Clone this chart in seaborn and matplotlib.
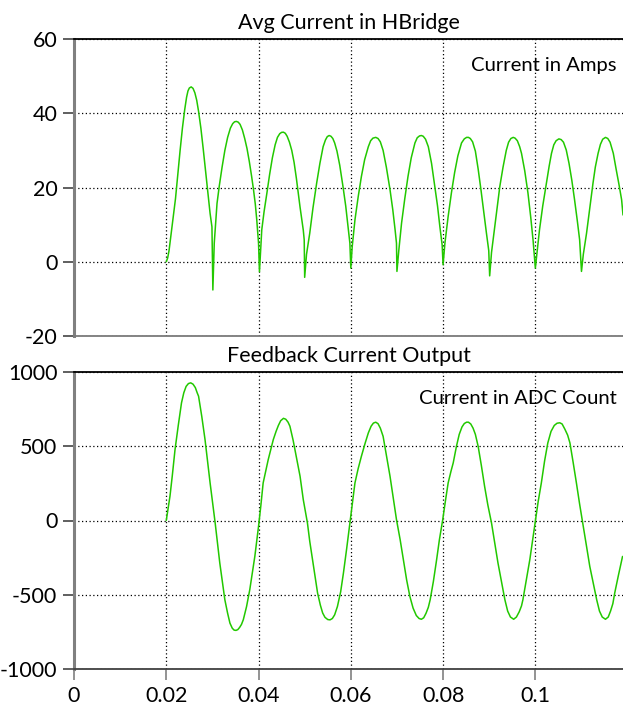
import matplotlib
matplotlib.use("Agg")
import matplotlib.pyplot as plt
import seaborn as sns
import numpy as np
import pandas as pd

# ---------------- data ----------------
t_top = [0.0200, 0.0203, 0.0206, 0.0210, 0.0215, 0.0220, 0.0225, 0.0230, 0.0235, 0.0240,
         0.0244, 0.0247, 0.0250, 0.0254, 0.0258, 0.0262, 0.0266, 0.0270, 0.0275, 0.0280,
         0.0285, 0.0290, 0.0295, 0.0299, 0.0301,
         0.0304, 0.0310, 0.0315, 0.0321, 0.0327, 0.0333, 0.0339, 0.0344, 0.0348, 0.0352,
         0.0356, 0.0360, 0.0365, 0.0370, 0.0375, 0.0380, 0.0385, 0.0389, 0.0393, 0.0396,
         0.0400, 0.0402,
         0.0407, 0.0412, 0.0418, 0.0424, 0.0430, 0.0436, 0.0441, 0.0446, 0.0450, 0.0454,
         0.0458, 0.0462, 0.0467, 0.0472, 0.0477, 0.0482, 0.0487, 0.0490, 0.0494, 0.0497,
         0.0499, 0.0500,
         0.0504, 0.0511, 0.0518, 0.0526, 0.0533, 0.0540, 0.0545, 0.0549, 0.0553, 0.0557,
         0.0561, 0.0565, 0.0570, 0.0576, 0.0583, 0.0589, 0.0594, 0.0598, 0.0600,
         0.0603, 0.0609, 0.0616, 0.0623, 0.0630, 0.0638, 0.0643, 0.0648, 0.0654, 0.0659,
         0.0664, 0.0670, 0.0677, 0.0685, 0.0691, 0.0696, 0.0699, 0.0700,
         0.0704, 0.0710, 0.0717, 0.0724, 0.0731, 0.0739, 0.0744, 0.0749, 0.0753, 0.0757,
         0.0762, 0.0768, 0.0775, 0.0782, 0.0788, 0.0793, 0.0798, 0.0800,
         0.0804, 0.0811, 0.0818, 0.0825, 0.0832, 0.0840, 0.0846, 0.0851, 0.0855, 0.0859,
         0.0864, 0.0870, 0.0876, 0.0882, 0.0888, 0.0894, 0.0899, 0.0901,
         0.0905, 0.0912, 0.0918, 0.0923, 0.0930, 0.0937, 0.0942, 0.0947, 0.0952, 0.0956,
         0.0961, 0.0966, 0.0970, 0.0977, 0.0984, 0.0990, 0.0995, 0.1000,
         0.1004, 0.1009, 0.1016, 0.1024, 0.1030, 0.1035, 0.1040, 0.1045, 0.1051, 0.1056,
         0.1061, 0.1067, 0.1073, 0.1079, 0.1085, 0.1091, 0.1096, 0.1100,
         0.1104, 0.1111, 0.1118, 0.1125, 0.1130, 0.1136, 0.1141, 0.1146, 0.1152, 0.1157,
         0.1162, 0.1169, 0.1175, 0.1181, 0.1187, 0.1190]
amps_top = [0.0, 1.0, 3.0, 7.0, 12.0, 17.0, 23.5, 30.0, 36.0, 41.0,
            44.3, 46.0, 46.8, 47.1, 46.7, 45.5, 43.5, 40.5, 36.0, 30.5,
            24.7, 19.0, 13.0, 9.4, -7.6,
            5.0, 15.7, 20.5, 25.5, 30.0, 33.5, 36.0, 37.2, 37.7, 37.8,
            37.6, 37.0, 35.5, 33.2, 30.5, 27.0, 23.0, 19.5, 15.5, 11.5,
            5.0, -2.7,
            8.6, 13.5, 18.4, 23.5, 28.0, 31.5, 33.5, 34.5, 34.85, 34.9,
            34.6, 33.8, 32.2, 30.0, 26.8, 22.5, 17.5, 14.7, 11.2, 8.5,
            5.9, -4.2,
            2.0, 7.7, 14.5, 21.2, 26.5, 31.0, 32.8, 33.7, 34.0, 33.8,
            33.2, 32.0, 29.8, 26.0, 20.3, 15.0, 9.5, 5.0, -1.7,
            4.0, 11.3, 17.5, 23.0, 27.5, 31.0, 32.6, 33.3, 33.5, 33.2,
            32.3, 30.0, 25.5, 19.4, 14.0, 8.6, 5.0, -2.6,
            3.0, 10.4, 17.0, 23.0, 28.0, 32.0, 33.4, 33.9, 34.0, 33.8,
            33.0, 31.0, 26.5, 20.3, 15.0, 9.5, 4.5, -0.8,
            5.0, 12.2, 18.5, 24.0, 28.5, 32.0, 33.1, 33.5, 33.5, 33.2,
            32.3, 29.8, 25.0, 19.5, 13.5, 7.7, 3.0, -3.8,
            2.5, 9.5, 15.5, 20.3, 25.5, 30.0, 32.2, 33.2, 33.5, 33.3,
            32.6, 31.0, 29.2, 24.5, 18.5, 12.0, 5.9, -1.7,
            3.0, 8.6, 15.0, 21.2, 25.8, 29.2, 31.5, 32.6, 33.1, 32.9,
            32.2, 30.1, 26.5, 22.0, 16.7, 11.0, 5.9, -2.6,
            2.0, 7.7, 14.5, 21.2, 25.5, 29.2, 31.6, 33.0, 33.5, 33.2,
            32.2, 29.2, 25.0, 21.0, 16.7, 12.6]

t_fb = [0.0200, 0.0204, 0.0208, 0.0213, 0.0219, 0.0226, 0.0233, 0.0238, 0.0243, 0.0248,
        0.0253, 0.0258, 0.0263, 0.0267, 0.0270, 0.0277, 0.0284, 0.0295, 0.0306, 0.0316,
        0.0327, 0.0333, 0.0338, 0.0343, 0.0347, 0.0351, 0.0355, 0.0359, 0.0363, 0.0367,
        0.0374, 0.0381, 0.0392, 0.0400, 0.0405, 0.0410, 0.0421, 0.0432, 0.0438, 0.0443,
        0.0448, 0.0454, 0.0459, 0.0464, 0.0468, 0.0475, 0.0483, 0.0490, 0.0497, 0.0506,
        0.0511, 0.0517, 0.0528, 0.0534, 0.0539, 0.0544, 0.0550, 0.0555, 0.0560, 0.0565,
        0.0571, 0.0578, 0.0584, 0.0591, 0.0598, 0.0603, 0.0609, 0.0616, 0.0623, 0.0631,
        0.0638, 0.0644, 0.0649, 0.0654, 0.0659, 0.0664, 0.0670, 0.0677, 0.0685, 0.0692,
        0.0699, 0.0707, 0.0714, 0.0721, 0.0728, 0.0735, 0.0742, 0.0748, 0.0753, 0.0758,
        0.0763, 0.0768, 0.0772, 0.0779, 0.0786, 0.0792, 0.0799, 0.0805, 0.0811, 0.0817,
        0.0822, 0.0829, 0.0835, 0.0841, 0.0846, 0.0851, 0.0855, 0.0860, 0.0865, 0.0870,
        0.0876, 0.0883, 0.0890, 0.0897, 0.0905, 0.0912, 0.0919, 0.0927, 0.0934, 0.0940,
        0.0946, 0.0953, 0.0959, 0.0965, 0.0970, 0.0973, 0.0980, 0.0988, 0.0994, 0.1000,
        0.1006, 0.1013, 0.1020, 0.1027, 0.1034, 0.1041, 0.1047, 0.1053, 0.1058, 0.1064,
        0.1070, 0.1075, 0.1082, 0.1089, 0.1096, 0.1104, 0.1111, 0.1118, 0.1126, 0.1133,
        0.1139, 0.1145, 0.1152, 0.1158, 0.1163, 0.1168, 0.1172, 0.1180, 0.1189]
adc_fb = [0, 80, 163, 300, 478, 640, 792, 860, 903, 922,
          927, 918, 895, 860, 837, 700, 545, 253, -17, -286,
          -534, -625, -691, -725, -738, -740, -735, -720, -700, -668,
          -580, -466, -241, -39, 100, 253, 410, 545, 600, 640,
          672, 688, 682, 662, 635, 540, 410, 298, 140, -17,
          -140, -264, -489, -570, -623, -652, -667, -669, -660, -635,
          -579, -480, -354, -190, -17, 110, 253, 350, 433, 520,
          590, 635, 656, 662, 652, 622, 567, 440, 298, 150,
          6, -130, -264, -400, -511, -590, -640, -660, -665, -655,
          -625, -585, -534, -410, -264, -130, 1, 130, 253, 330,
          388, 500, 580, 630, 653, 662, 662, 650, 622, 580,
          500, 370, 230, 105, -17, -150, -286, -420, -534, -610,
          -650, -665, -650, -615, -575, -534, -410, -264, -135, -7,
          125, 253, 400, 522, 600, 640, 655, 658, 650, 615,
          575, 522, 390, 253, 110, -40, -175, -309, -430, -534,
          -610, -650, -665, -650, -610, -560, -489, -370, -242]

x_ticks = [0, 0.02, 0.04, 0.06, 0.08, 0.1]
x_tick_labels = ["0", "0.02", "0.04", "0.06", "0.08", "0.1"]
top_y_ticks = [-20, 0, 20, 40, 60]
bot_y_ticks = [-1000, -500, 0, 500, 1000]
titles = ["Avg Current in HBridge", "Feedback Current Output"]
notes = ["Current in Amps", "Current in ADC Count"]

# ---------------- style ----------------
sns.set_theme(style="white")
plt.rcParams["font.family"] = ["Lato", "DejaVu Sans"]
plt.rcParams["axes.unicode_minus"] = False

LINE = "#22c800"
FS = 15.5
FS_NOTE = 14.6

fig = plt.figure(figsize=(6.23, 7.06), dpi=100)
ax1 = fig.add_axes([74 / 623, 1 - 336 / 706, 549 / 623, 297 / 706])
ax2 = fig.add_axes([74 / 623, 1 - 669 / 706, 549 / 623, 297 / 706])

df_top = pd.DataFrame({"t": t_top, "v": amps_top})
df_fb = pd.DataFrame({"t": t_fb, "v": adc_fb})

sns.lineplot(data=df_top, x="t", y="v", ax=ax1, color=LINE, linewidth=1.1,
             estimator=None, sort=False)
sns.lineplot(data=df_fb, x="t", y="v", ax=ax2, color=LINE, linewidth=1.1,
             estimator=None, sort=False)

for ax, yt, title, note, ylim in [
    (ax1, top_y_ticks, titles[0], notes[0], (-20, 60)),
    (ax2, bot_y_ticks, titles[1], notes[1], (-1000, 1000)),
]:
    ax.set_xlim(0, 0.119)
    ax.set_ylim(*ylim)
    ax.set_xticks(x_ticks)
    ax.set_yticks(yt)
    ax.set_xlabel("")
    ax.set_ylabel("")
    ax.set_axisbelow(True)
    ax.grid(True, color="black", linestyle=(0, (1, 2)), linewidth=0.9)
    ax.spines["right"].set_visible(False)
    ax.spines["top"].set_color("black")
    ax.spines["top"].set_linewidth(1.3)
    ax.spines["left"].set_color("#808080")
    ax.spines["left"].set_linewidth(2.2)
    ax.spines["bottom"].set_color("#7a7a7a")
    ax.spines["bottom"].set_linewidth(1.3)
    ax.tick_params(axis="y", left=True, direction="out", length=8, width=1.2,
                   color="#444444", pad=4, labelsize=FS, labelcolor="black")
    ax.set_title(title, fontsize=FS, pad=7, color="black")
    ax.text(0.988, 0.912, note, transform=ax.transAxes, ha="right", va="center",
            fontsize=FS_NOTE, color="black")

ax1.tick_params(axis="x", bottom=False, labelbottom=False)
ax2.spines["bottom"].set_color("#404040")
ax2.tick_params(axis="x", bottom=True, direction="out", length=8, width=1.2,
                color="#808080", pad=4, labelsize=FS, labelcolor="black")
ax2.set_xticklabels(x_tick_labels)

fig.savefig("out.png", dpi=100)
